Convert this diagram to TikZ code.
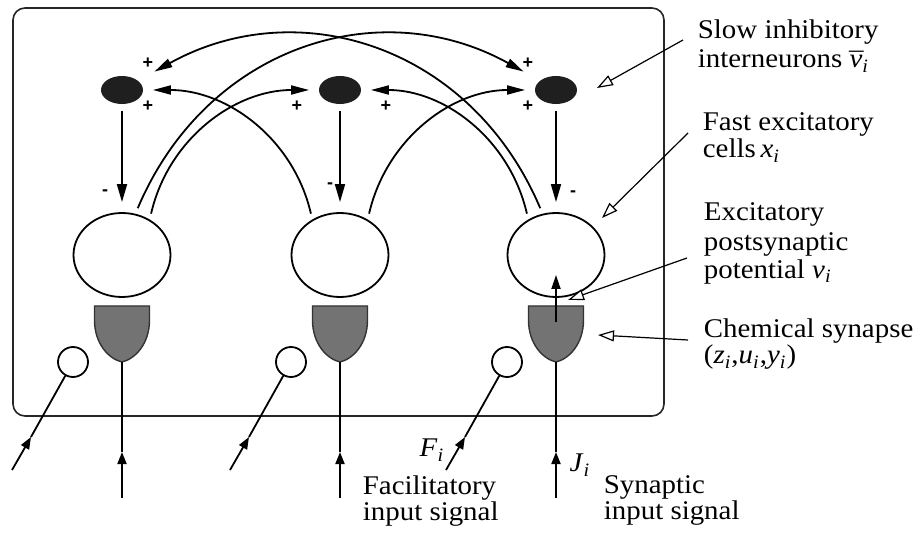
\documentclass[tikz,border=0pt]{standalone}
\usepackage{fontspec}
\usepackage{graphicx}
\setmainfont{Liberation Serif}
\newfontfamily\signfont{Liberation Sans}
\usetikzlibrary{arrows.meta,shapes.geometric}

\newcommand\sub[2]{\textit{#1}\textsubscript{\textit{#2}}}
\newcommand\wide[1]{\scalebox{1.07}[1]{#1}}
\newcommand\vbar{v\llap{\raisebox{-0.12em}{\textasciimacron}\kern0.04em}}

\begin{document}
\begin{tikzpicture}[x=0.5pt,y=-0.5pt,line width=0.9pt,
	cell/.style={draw,ellipse,minimum width=48.5pt,minimum height=42pt,inner sep=0pt},
	inter/.style={ellipse,fill=black!88,minimum width=21pt,minimum height=14pt,inner sep=0pt},
	relay/.style={draw,circle,minimum size=15pt,inner sep=0pt},
	synapse/.style={draw=black!80,fill=black!55,line width=0.7pt},
	sign/.style={font=\signfont\bfseries\fontsize{9}{9}\selectfont,inner sep=0pt},
	lbl/.style={align=left,anchor=north west,inner sep=0pt,font=\fontsize{13.5}{11}\selectfont},
	sym/.style={font=\fontsize{13.5}{11}\selectfont,inner sep=0pt},
	exc/.style={-{Triangle[length=9pt,width=4.5pt]},shorten <=3pt,shorten >=4.5pt},
	inh/.style={-{Triangle[length=9pt,width=5pt]},shorten <=3pt,shorten >=5pt},
	feed/.style={-{Triangle[length=6pt,width=4.5pt]}},
	pointer/.style={line width=0.6pt,-{Triangle[open,length=8pt,width=5.5pt,fill=white]}}]

\useasboundingbox (0,0) rectangle (917,535);
\draw[black!85,line width=0.8pt,rounded corners=6pt] (13,8) rectangle (664,416);

\foreach \i/\x in {1/122,2/340,3/556}{
	\node[cell] (c\i) at (\x,255) {};
	\node[inter] (n\i) at (\x,90) {};
	\node[relay] (r\i) at (\x-49,362) {};
	\draw[synapse] (\x-27.5,306) -- (\x+27.5,306) -- (\x+27.5,320)
		.. controls (\x+27.5,344) and (\x+13,359) .. (\x,362)
		.. controls (\x-13,359) and (\x-27.5,344) .. (\x-27.5,320) -- cycle;
	\coordinate (s\i) at (\x,362);
	\coordinate (in\i) at (\x,498);
	\coordinate (ia\i) at (\x,452);
	\coordinate (fn\i) at (\x-110,470);
	\coordinate (fa\i) at (\x-91,437);
	\draw[inh] (n\i) -- (c\i);
	\draw[feed] (in\i) -- (ia\i);
	\draw (ia\i) -- (s\i);
	\draw[feed] (fn\i) -- (fa\i);
	\draw (fa\i) -- (r\i);
}

\draw[exc] (c1.52) to[out=77,in=180] (n2.west);
\draw[exc] (c2.128) to[out=103,in=0] (n1.east);
\draw[exc] (c2.52) to[out=77,in=180] (n3.west);
\draw[exc] (c3.128) to[out=103,in=0] (n2.east);
\draw[exc,shorten >=9pt,looseness=1.1] (c1.72) to[out=67,in=151] (n3.150);
\draw[exc,shorten >=9pt,looseness=1.1] (c3.108) to[out=113,in=29] (n1.30);

\coordinate (v3) at (556,322);
\coordinate (vtip) at (556,275);
\draw[-{Triangle[length=7pt,width=4.5pt]}] (v3) -- (vtip);

\foreach \p/\q [count=\k] in {148/63,148/106,297/106,386/106,528/63,528/106}
	\node[sign] (plus\k) at (\p,\q) {+};
\foreach \p/\q [count=\k] in {105/193,330/186,573/194}
	\node[sign] (minus\k) at (\p,\q) {-};

\node[lbl] (slow) at (697,18.5) {\wide{Slow inhibitory}\\[2pt]\wide{interneurons \sub{\vbar}{i}}};
\node[lbl] (fast) at (702,111.5) {\wide{Fast excitatory}\\[0.5pt]\wide{cells\,\sub{x}{i}}};
\node[lbl] (epsp) at (703,201.5) {\wide{Excitatory}\\[2.5pt]\wide{postsynaptic}\\[0.5pt]\wide{potential \sub{v}{i}}};
\node[lbl] (chem) at (703,317.5) {\wide{Chemical synapse}\\[0pt]\wide{(\sub{z}{i},\sub{u}{i},\sub{y}{i})}};
\node[lbl] (facil) at (362,474.5) {\wide{Facilitatory}\\[0pt]\wide{input signal}};
\node[lbl] (synin) at (603,474.5) {\wide{Synaptic}\\[0pt]\wide{input signal}};
\node[sym] (F) at (432,450) {\wide{\sub{F}{i}}};
\node[sym] (J) at (580,465) {\wide{\sub{J}{i}}};

\coordinate (slow-from) at (683,40);
\coordinate (slow-to) at (597,88);
\coordinate (fast-from) at (688,133);
\coordinate (fast-to) at (602,218);
\coordinate (epsp-from) at (687,258);
\coordinate (epsp-to) at (568,300);
\coordinate (chem-from) at (688,340);
\coordinate (chem-to) at (598,335);
\draw[pointer] (slow-from) -- (slow-to);
\draw[pointer] (fast-from) -- (fast-to);
\draw[pointer] (epsp-from) -- (epsp-to);
\draw[pointer] (chem-from) -- (chem-to);
\end{tikzpicture}
\end{document}
